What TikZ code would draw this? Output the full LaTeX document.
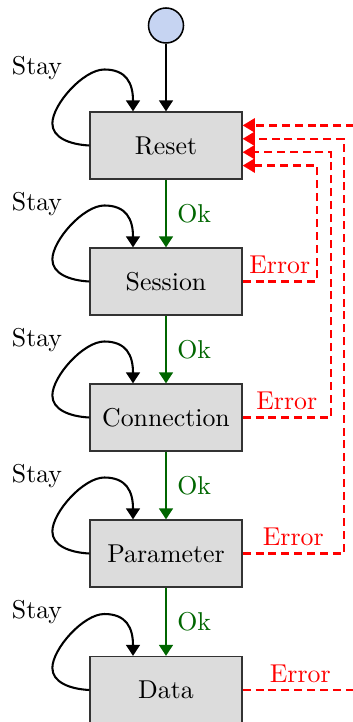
\documentclass[tikz,border=0pt]{standalone}
\usetikzlibrary{arrows.meta}
\definecolor{boxfill}{HTML}{DCDCDC}
\definecolor{startfill}{HTML}{C6D4F2}
\definecolor{okgreen}{HTML}{006600}
\begin{document}
\begin{tikzpicture}[x=0.3876pt,y=-0.3876pt,
  state/.style={draw=black!80,line width=0.5pt,fill=boxfill,minimum width=152*0.3876pt,
    minimum height=67*0.3876pt,inner sep=0pt},
  startdot/.style={circle,draw=black,line width=0.6pt,fill=startfill,minimum size=35*0.3876pt,inner sep=0pt},
  tip/.style={-{Triangle[length=4.3pt,width=5.4pt]}},
  flow/.style={tip,line width=0.8pt},
  okflow/.style={flow,draw=okgreen},
  errflow/.style={-{Triangle[length=4.7pt,width=5.4pt]},draw=red,line width=0.9pt,dash pattern=on 3.1pt off 1.9pt},
  oklabel/.style={text=okgreen,anchor=west,inner sep=4pt},
  errlabel/.style={text=red,anchor=south,inner sep=2.5pt},
  staylabel/.style={text=black}]
\useasboundingbox (0,0) rectangle (353,722);
\clip (0,0) rectangle (353,722);

% start point and the five states
\node[startdot] (start) at (166,25.5) {};
\node[state] (reset) at (166,145.5) {Reset};
\node[state] (session) at (166,281.5) {Session};
\node[state] (conn) at (166,417.5) {Connection};
\node[state] (param) at (166,553.5) {Parameter};
\node[state] (data) at (166,690) {Data};

\draw[flow] (start) -- (reset);

% successful transitions
\foreach \a/\b in {reset/session,session/conn,conn/param,param/data}{
  \draw[okflow] (\a) -- node[oklabel] {Ok} (\b);
}

% self loops
\foreach \s in {reset,session,conn,param,data}{
  \coordinate (\s-in) at ([xshift=-33*0.3876pt]\s.north);
  \draw[flow] (\s.west)
    .. controls +(-20,-1) and +(0,14) .. ++(-37,-22)
    .. controls +(0,-19) and +(-21,0) .. ++(52,-54)
    .. controls +(22,0) and +(0,-28) .. (\s-in);
  \node[staylabel] at ([xshift=-129*0.3876pt,yshift=77.5*0.3876pt]\s.center) {Stay};
}

% error transitions back to Reset
\coordinate (r1) at ([yshift=-20.1*0.3876pt]reset.east);
\coordinate (r2) at ([yshift=-6.7*0.3876pt]reset.east);
\coordinate (r3) at ([yshift=6.7*0.3876pt]reset.east);
\coordinate (r4) at ([yshift=20.1*0.3876pt]reset.east);
\coordinate (c1) at (317,0);
\coordinate (c2) at (331,0);
\coordinate (c3) at (344,0);
\coordinate (c4) at (358,0);

\draw[errflow] (session.east) -- node[errlabel] {Error} (session.east -| c1) |- (r1);
\draw[errflow] (conn.east) -- node[errlabel] {Error} (conn.east -| c2) |- (r2);
\draw[errflow] (param.east) -- node[errlabel] {Error} (param.east -| c3) |- (r3);
\draw[errflow] (data.east) -- node[errlabel] {Error} (data.east -| c4) |- (r4);
\end{tikzpicture}
\end{document}
